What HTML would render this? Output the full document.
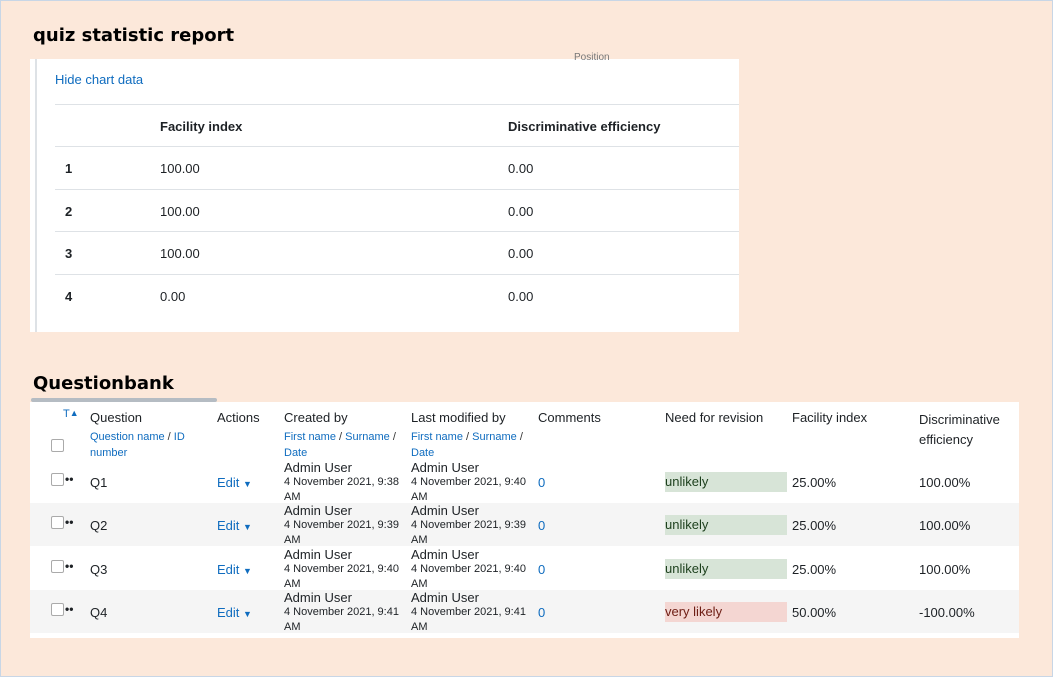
<!DOCTYPE html>
<html><head><meta charset="utf-8"><style>
*{margin:0;padding:0;box-sizing:border-box}
body{width:1053px;height:677px;background:#fce8da;font-family:"Liberation Sans",sans-serif;color:#1d2125;position:relative;overflow:hidden;border:1px solid #c8d6e6}
.a{position:absolute;white-space:nowrap}
h2{position:absolute;font-family:"DejaVu Sans","Liberation Sans",sans-serif;font-weight:bold;font-size:18px;color:#000}
.panel{position:absolute;background:#fff}
.hl{position:absolute;height:1px;background:#dee2e6}
.t{font-size:13px}
.lk{color:#0f6cbf}
.sm{font-size:11px}
.cb{position:absolute;width:13px;height:13px;border:1px solid #aaa;border-radius:2px;background:#fff}
.row{position:absolute;left:0;width:989px;height:43px}
.pill{position:absolute;width:122px;height:20px;font-size:13px;line-height:20px}
</style></head><body>
<h2 style="left:32px;top:24px">quiz statistic report</h2>
<div class="panel" style="left:29px;top:58px;width:709px;height:273px">
  <div style="position:absolute;left:5px;top:0;width:2px;height:273px;background:#dee2e6"></div>
  <div class="a" style="left:544px;top:-7px;font-size:10px;color:#777">Position</div>
  <div class="a t lk" style="left:25px;top:13px">Hide chart data</div>
  <div class="hl" style="left:25px;top:45px;width:684px"></div>
  <div class="a t" style="left:130px;top:60px;font-weight:bold">Facility index</div>
  <div class="a t" style="left:478px;top:60px;font-weight:bold">Discriminative efficiency</div>
  <div class="hl" style="left:25px;top:87px;width:684px"></div>
  <div class="a t" style="left:35px;top:102px;font-weight:bold">1</div><div class="a t" style="left:130px;top:102px">100.00</div><div class="a t" style="left:478px;top:102px">0.00</div>
  <div class="hl" style="left:25px;top:130px;width:684px"></div>
  <div class="a t" style="left:35px;top:145px;font-weight:bold">2</div><div class="a t" style="left:130px;top:145px">100.00</div><div class="a t" style="left:478px;top:145px">0.00</div>
  <div class="hl" style="left:25px;top:172px;width:684px"></div>
  <div class="a t" style="left:35px;top:187px;font-weight:bold">3</div><div class="a t" style="left:130px;top:187px">100.00</div><div class="a t" style="left:478px;top:187px">0.00</div>
  <div class="hl" style="left:25px;top:215px;width:684px"></div>
  <div class="a t" style="left:35px;top:230px;font-weight:bold">4</div><div class="a t" style="left:130px;top:230px">0.00</div><div class="a t" style="left:478px;top:230px">0.00</div>
</div>
<h2 style="left:32px;top:372px">Questionbank</h2>
<div style="position:absolute;left:30px;top:397px;width:186px;height:4px;background:#b5bcc3;border-radius:2px"></div>
<div class="panel" style="left:29px;top:401px;width:989px;height:236px">
  <div class="a lk" style="left:33px;top:6px;font-size:11px">T<span style="font-size:9px;vertical-align:top">&#9650;</span></div>
  <div class="a t" style="left:60px;top:8px">Question</div>
  <div class="a sm lk" style="left:60px;top:27px;line-height:16px;white-space:normal;width:110px">Question name <span style="color:#333">/</span> ID<br>number</div>
  <div class="cb" style="left:21px;top:37px"></div>
  <div class="a t" style="left:187px;top:8px">Actions</div>
  <div class="a t" style="left:254px;top:8px">Created by</div>
  <div class="a sm lk" style="left:254px;top:27px;line-height:16px">First name <span style="color:#333">/</span> Surname <span style="color:#333">/</span><br>Date</div>
  <div class="a t" style="left:381px;top:8px">Last modified by</div>
  <div class="a sm lk" style="left:381px;top:27px;line-height:16px">First name <span style="color:#333">/</span> Surname <span style="color:#333">/</span><br>Date</div>
  <div class="a t" style="left:508px;top:8px">Comments</div>
  <div class="a t" style="left:635px;top:8px">Need for revision</div>
  <div class="a t" style="left:762px;top:8px">Facility index</div>
  <div class="a t" style="left:889px;top:8px;line-height:20px">Discriminative<br>efficiency</div>
  <div id="rows"></div>
</div>
<script>
const qs=["Q1","Q2","Q3","Q4"];
const created=["9:38","9:39","9:40","9:41"];
const modified=["9:40","9:39","9:40","9:41"];
const revision=["unlikely","unlikely","unlikely","very likely"];
const facility=["25.00%","25.00%","25.00%","50.00%"];
const disc=["100.00%","100.00%","100.00%","-100.00%"];
const host=document.getElementById('rows');
qs.forEach((q,i)=>{
  const r=document.createElement('div');
  r.className='row';
  
  
  r.style.top=(58+i*43.3)+'px';
  r.style.background=i%2?'#f5f5f5':'#fff';
  const bad=revision[i]!=='unlikely';
  r.innerHTML=`<div class="cb" style="left:21px;top:13px"></div>
  <div class="a" style="left:35px;top:12px;font-size:12px;font-weight:bold">••</div>
  <div class="a t" style="left:60px;top:15px">${q}</div>
  <div class="a t lk" style="left:187px;top:15px">Edit <span style="font-size:9px">&#9660;</span></div>
  <div class="a" style="left:254px;top:0;font-size:13px">Admin User</div>
  <div class="a sm" style="left:254px;top:15px;line-height:15px">4 November 2021, ${created[i]}<br>AM</div>
  <div class="a" style="left:381px;top:0;font-size:13px">Admin User</div>
  <div class="a sm" style="left:381px;top:15px;line-height:15px">4 November 2021, ${modified[i]}<br>AM</div>
  <div class="a t lk" style="left:508px;top:15px">0</div>
  <div class="pill" style="left:635px;top:12px;background:${bad?'#f4d6d2':'#d7e4d7'};color:${bad?'#6e1d14':'#1c3f1c'}">${revision[i]}</div>
  <div class="a t" style="left:762px;top:15px">${facility[i]}</div>
  <div class="a t" style="left:889px;top:15px">${disc[i]}</div>`;
  host.appendChild(r);
});
</script>
</body></html>
